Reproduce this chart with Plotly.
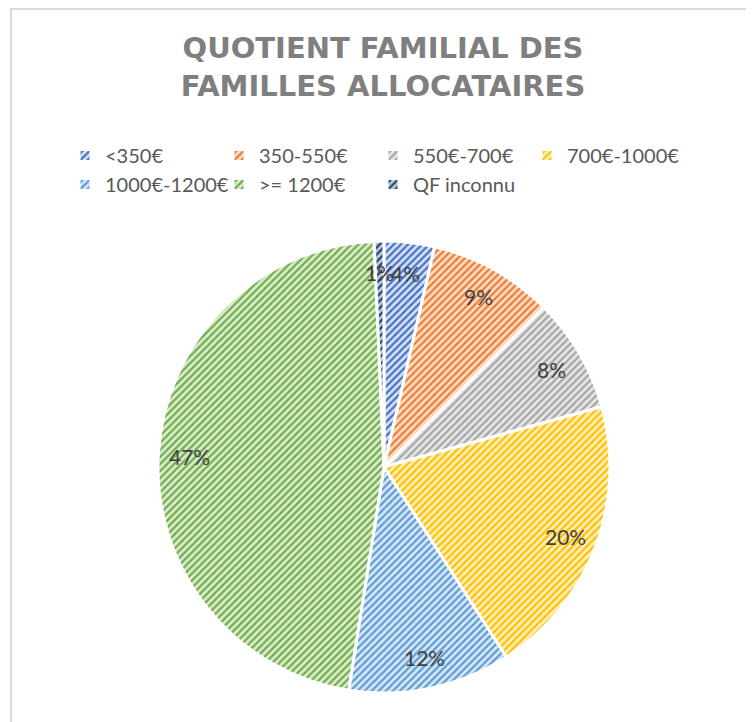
import math
import plotly.graph_objects as go

categories = ["<350€", "350-550€", "550€-700€", "700€-1000€", "1000€-1200€", ">= 1200€", "QF inconnu"]
values = [3.6, 8.9, 8.2, 20.2, 11.6, 46.8, 0.7]
main_colors = ["#4472C4", "#ED7D31", "#A5A5A5", "#FFC000", "#5B9BD5", "#70AD47", "#264478"]
light_colors = ["#D6E0F3", "#FBDCC8", "#E6E6E6", "#FFEFBF", "#D7E6F5", "#DBEBD0", "#BFC9DD"]
title_text = "QUOTIENT FAMILIAL DES<br>FAMILLES ALLOCATAIRES"

W, H = 754, 722
# pie geometry (figure pixels)
CX, CY, R = 376, 459, 226
LABEL_R = 0.86 * R

fig = go.Figure()
fig.add_trace(go.Pie(
    labels=categories,
    values=values,
    sort=False,
    direction="clockwise",
    rotation=0,
    textinfo="none",
    marker=dict(
        colors=light_colors,
        line=dict(color="white", width=3),
        pattern=dict(shape="/", fgcolor=main_colors, bgcolor=light_colors,
                     size=5, solidity=0.45, fillmode="replace", fgopacity=1),
    ),
    domain=dict(x=[(CX - R) / W, (CX + R) / W], y=[(H - CY - R) / H, (H - CY + R) / H]),
    hoverinfo="label+percent",
))

# percentage labels at the slices' mid-angles, derived from the values
total = sum(values)
annotations = []
cum = 0.0
for v in values:
    mid = (cum + v / 2) / total * 2 * math.pi
    cum += v
    px = CX + LABEL_R * math.sin(mid)
    py = CY - LABEL_R * math.cos(mid)
    annotations.append(dict(
        x=px / W, y=1 - py / H, xref="paper", yref="paper",
        text=f"{round(v / total * 100)}%", showarrow=False,
        xanchor="center", yanchor="middle",
        font=dict(family="Lato, sans-serif", size=21, color="#404040"),
    ))

fig.update_layout(
    width=W, height=H,
    margin=dict(l=0, r=0, t=0, b=0),
    paper_bgcolor="white",
    title=dict(
        text=title_text,
        x=375 / W, xanchor="center",
        y=1 - 50 / H, yanchor="top",
        font=dict(family="DejaVu Sans, sans-serif", size=29, color="#7F7F7F", weight="bold"),
    ),
    legend=dict(
        orientation="h",
        x=57 / W, xanchor="left",
        y=1 - 128 / H, yanchor="top",
        font=dict(family="Lato, sans-serif", size=20, color="#595959"),
        entrywidth=109,
        entrywidthmode="pixels",
        itemclick=False,
    ),
    annotations=annotations,
    shapes=[dict(
        type="rect", xref="paper", yref="paper",
        x0=3 / W, x1=1.2, y0=-0.2, y1=1 - 1 / H,
        line=dict(color="#D9D9D9", width=2), fillcolor="rgba(0,0,0,0)",
    )],
)

fig.write_html("out.html")
